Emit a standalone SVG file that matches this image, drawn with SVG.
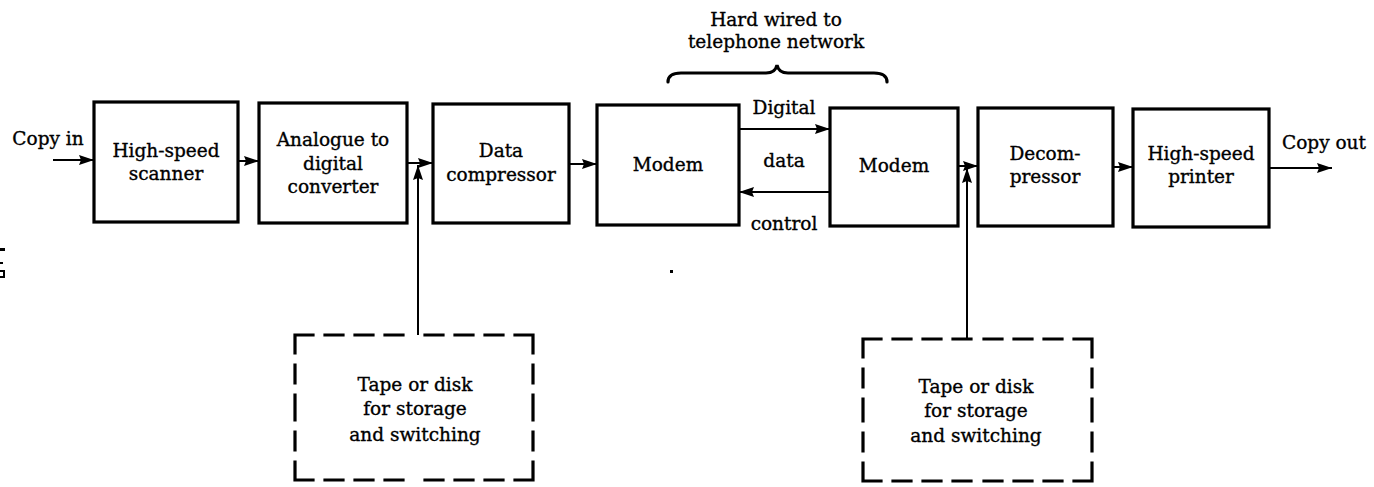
<svg xmlns="http://www.w3.org/2000/svg" width="1374" height="487" viewBox="0 0 1374 487">
  <style>
    .box { fill: #fff; stroke: #000; stroke-width: 3.2; }
    .dash { fill: none; stroke: #000; stroke-width: 3.2; stroke-dasharray: 18 12; stroke-linecap: square; }
    .wire { fill: none; stroke: #000; stroke-width: 2; }
    .brace { fill: none; stroke: #000; stroke-width: 3.2; stroke-linecap: round; }
    text { font-family: "DejaVu Serif", "Liberation Serif", serif; font-size: 18.5px; fill: #000; stroke: #000; stroke-width: 0.35; }
    .c { text-anchor: middle; }
  </style>
  <defs>
    <marker id="arrow" markerUnits="userSpaceOnUse" markerWidth="15" markerHeight="10" refX="15" refY="5" orient="auto">
      <path d="M0,0 L15,5 L0,10 L2,5 Z" fill="#000"/>
    </marker>
  </defs>
  <rect width="1374" height="487" fill="#fff"/>

  <!-- flow connectors -->
  <g id="connectors">
    <line class="wire" x1="53" y1="160" x2="94" y2="160" marker-end="url(#arrow)"/>
    <line class="wire" x1="238" y1="161" x2="259" y2="161" marker-end="url(#arrow)"/>
    <line class="wire" x1="407" y1="163" x2="433" y2="163" marker-end="url(#arrow)"/>
    <line class="wire" x1="418" y1="335" x2="418" y2="165" marker-end="url(#arrow)"/>
    <line class="wire" x1="569" y1="164" x2="597" y2="164" marker-end="url(#arrow)"/>
    <line class="wire" x1="739" y1="129" x2="830" y2="129" marker-end="url(#arrow)"/>
    <line class="wire" x1="830" y1="192" x2="739" y2="192" marker-end="url(#arrow)"/>
    <line class="wire" x1="958" y1="166" x2="978" y2="166" marker-end="url(#arrow)"/>
    <line class="wire" x1="967" y1="339" x2="967" y2="168" marker-end="url(#arrow)"/>
    <line class="wire" x1="1113" y1="167" x2="1133" y2="167" marker-end="url(#arrow)"/>
    <line class="wire" x1="1269" y1="168" x2="1332" y2="168" marker-end="url(#arrow)"/>
  </g>

  <!-- line labels -->
  <g id="labels">
    <text x="48" y="145" class="c">Copy in</text>
    <text x="1324" y="149" class="c">Copy out</text>
    <text x="784" y="114" class="c">Digital</text>
    <text x="784" y="167" class="c">data</text>
    <text x="784" y="230" class="c">control</text>
  </g>

  <!-- telephone network brace -->
  <g id="network">
    <text x="776" y="26" class="c">Hard wired to</text>
    <text x="776" y="48" class="c">telephone network</text>
    <path class="brace" d="M668,82 C668,76 672,73 681,73 L766,73 C772,73 776,70 777,65 C778,70 782,73 788,73 L874,73 C883,73 887,76 887,82"/>
  </g>

  <g id="scanner">
    <rect class="box" x="94" y="102" width="144" height="120"/>
    <text x="166" y="157" class="c">High-speed</text>
    <text x="166" y="180" class="c">scanner</text>
  </g>

  <g id="adc">
    <rect class="box" x="259" y="103" width="148" height="120"/>
    <text x="333" y="146" class="c">Analogue to</text>
    <text x="333" y="170" class="c">digital</text>
    <text x="333" y="193" class="c">converter</text>
  </g>

  <g id="compressor">
    <rect class="box" x="433" y="104" width="136" height="119"/>
    <text x="501" y="157" class="c">Data</text>
    <text x="501" y="181" class="c">compressor</text>
  </g>

  <g id="modem-tx">
    <rect class="box" x="597" y="105" width="142" height="120"/>
    <text x="668" y="171" class="c">Modem</text>
  </g>

  <g id="modem-rx">
    <rect class="box" x="830" y="108" width="128" height="118"/>
    <text x="894" y="172" class="c">Modem</text>
  </g>

  <g id="decompressor">
    <rect class="box" x="978" y="108" width="135" height="118"/>
    <text x="1045" y="160" class="c">Decom-</text>
    <text x="1045" y="183" class="c">pressor</text>
  </g>

  <g id="printer">
    <rect class="box" x="1133" y="109" width="136" height="118"/>
    <text x="1201" y="160" class="c">High-speed</text>
    <text x="1201" y="183" class="c">printer</text>
  </g>

  <!-- dashed outlines: each side drawn from both corners toward its middle -->
  <g id="store-tx">
    <path class="dash" d="M295,335 L414,335 M533,335 L414,335 M533,335 L533,408 M533,480 L533,408 M533,480 L414,480 M295,480 L414,480 M295,480 L295,408 M295,335 L295,408"/>
    <text x="415" y="391" class="c">Tape or disk</text>
    <text x="415" y="415" class="c">for storage</text>
    <text x="415" y="441" class="c">and switching</text>
  </g>

  <g id="store-rx">
    <path class="dash" d="M863,339 L977,339 M1092,339 L977,339 M1092,339 L1092,410 M1092,481 L1092,410 M1092,481 L977,481 M863,481 L977,481 M863,481 L863,410 M863,339 L863,410"/>
    <text x="976" y="393" class="c">Tape or disk</text>
    <text x="976" y="417" class="c">for storage</text>
    <text x="976" y="442" class="c">and switching</text>
  </g>

  <!-- small marks at the left margin and a stray dot -->
  <g id="marks" fill="#000">
    <rect x="0" y="248" width="5" height="3"/>
    <rect x="0" y="262" width="3" height="2"/>
    <path d="M0,270 L5,270 L5,278 L0,278 L0,276 L3,276 L3,272 L0,272 Z"/>
    <rect x="670" y="270" width="3" height="3"/>
  </g>
</svg>
